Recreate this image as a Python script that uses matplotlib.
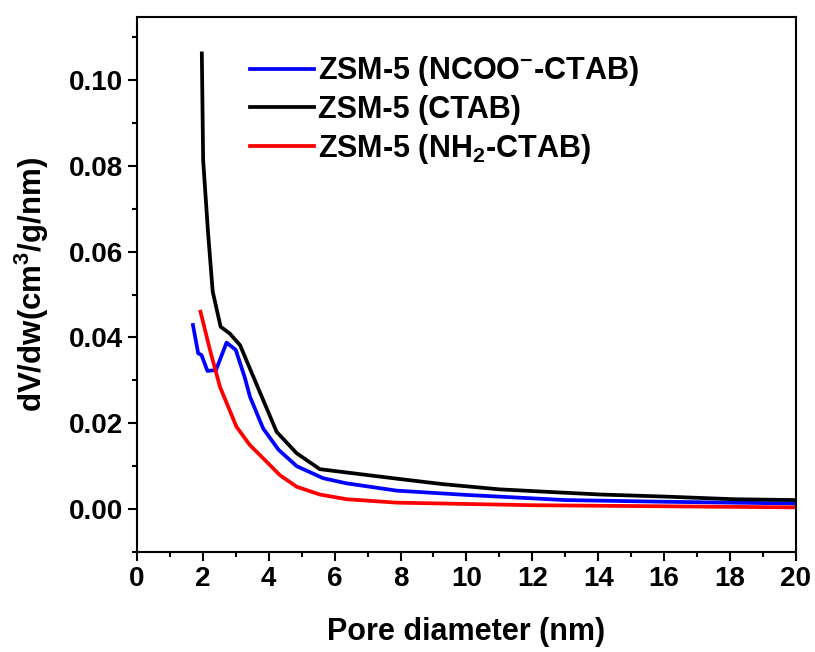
import matplotlib
matplotlib.use("Agg")
import matplotlib.pyplot as plt
from matplotlib.ticker import MultipleLocator

plt.rcParams['font.family'] = ['Liberation Sans', 'DejaVu Sans']
plt.rcParams['font.weight'] = 'bold'
plt.rcParams['mathtext.fontset'] = 'custom'
plt.rcParams['mathtext.rm'] = 'Liberation Sans:bold'
plt.rcParams['mathtext.bf'] = 'Liberation Sans:bold'
plt.rcParams['mathtext.it'] = 'Liberation Sans:bold'
plt.rcParams['mathtext.default'] = 'bf'

# Data
x_ncoo = [1.70, 1.86, 1.96, 2.14, 2.40, 2.72, 3.00, 3.28, 3.43, 3.83, 4.30, 4.85,
          5.65, 6.36, 7.88, 10.0, 13.0, 16.07, 20.0]
y_ncoo = [0.0429, 0.0363, 0.0359, 0.0322, 0.0324, 0.0388, 0.0371, 0.0305, 0.0262,
          0.0188, 0.0138, 0.0100, 0.0072, 0.0060, 0.0043, 0.0033, 0.0021, 0.0017, 0.0013]

x_ctab = [1.97, 2.01, 2.16, 2.30, 2.54, 2.82, 3.13, 3.58, 4.24, 4.85, 5.55, 7.98,
          9.3, 11.0, 12.5, 14.05, 16.07, 18.1, 20.0]
y_ctab = [0.1062, 0.0813, 0.0643, 0.0507, 0.0425, 0.0409, 0.0382, 0.0300, 0.0180,
          0.0130, 0.0093, 0.0070, 0.0058, 0.0046, 0.0040, 0.0034, 0.0029, 0.0023, 0.0021]

x_nh2 = [1.93, 2.22, 2.52, 3.02, 3.43, 3.94, 4.34, 4.85, 5.55, 6.36, 7.88, 12.0, 20.0]
y_nh2 = [0.0460, 0.0370, 0.0285, 0.0192, 0.0149, 0.0110, 0.0079, 0.0052, 0.0034,
         0.0023, 0.0015, 0.0009, 0.0004]

labels = [r"ZSM-5 (NCOO$^{-}$-CTAB)", "ZSM-5 (CTAB)", r"ZSM-5 (NH$_{2}$-CTAB)"]
colors = ['#0000ff', '#000000', '#ff0000']

fig = plt.figure(figsize=(8.15, 6.52), dpi=100)
ax = fig.add_axes([0.168, 0.1534, 0.8086, 0.8206])

ax.plot(x_ncoo, y_ncoo, color=colors[0], lw=2.7, label=labels[0])
ax.plot(x_ctab, y_ctab, color=colors[1], lw=2.7, label=labels[1])
ax.plot(x_nh2, y_nh2, color=colors[2], lw=2.7, label=labels[2])

ax.set_xlim(0, 20)
ax.set_ylim(-0.010, 0.1147)
ax.xaxis.set_major_locator(MultipleLocator(2))
ax.xaxis.set_minor_locator(MultipleLocator(1))
ax.yaxis.set_major_locator(MultipleLocator(0.02))
ax.yaxis.set_minor_locator(MultipleLocator(0.01))
ax.yaxis.set_major_formatter(matplotlib.ticker.FormatStrFormatter('%.2f'))

for s in ax.spines.values():
    s.set_linewidth(1.5)
ax.tick_params(which='major', direction='out', length=6.5, width=1.5, labelsize=20)
ax.tick_params(which='minor', direction='out', length=3.5, width=1.5)
ax.tick_params(top=False, right=False, which='both')

ax.set_xlabel("Pore diameter (nm)", fontsize=22, fontweight='bold', labelpad=18)
ax.set_ylabel(r"dV/dw(cm$^{3}$/g/nm)", fontsize=22.5, fontweight='bold', labelpad=13)

leg = ax.legend(loc='upper left', bbox_to_anchor=(0.171, 0.93), frameon=False,
                fontsize=22, handlelength=2.1, handletextpad=0.15, labelspacing=0.22,
                borderpad=0, borderaxespad=0)

fig.savefig("out.png", dpi=100)
